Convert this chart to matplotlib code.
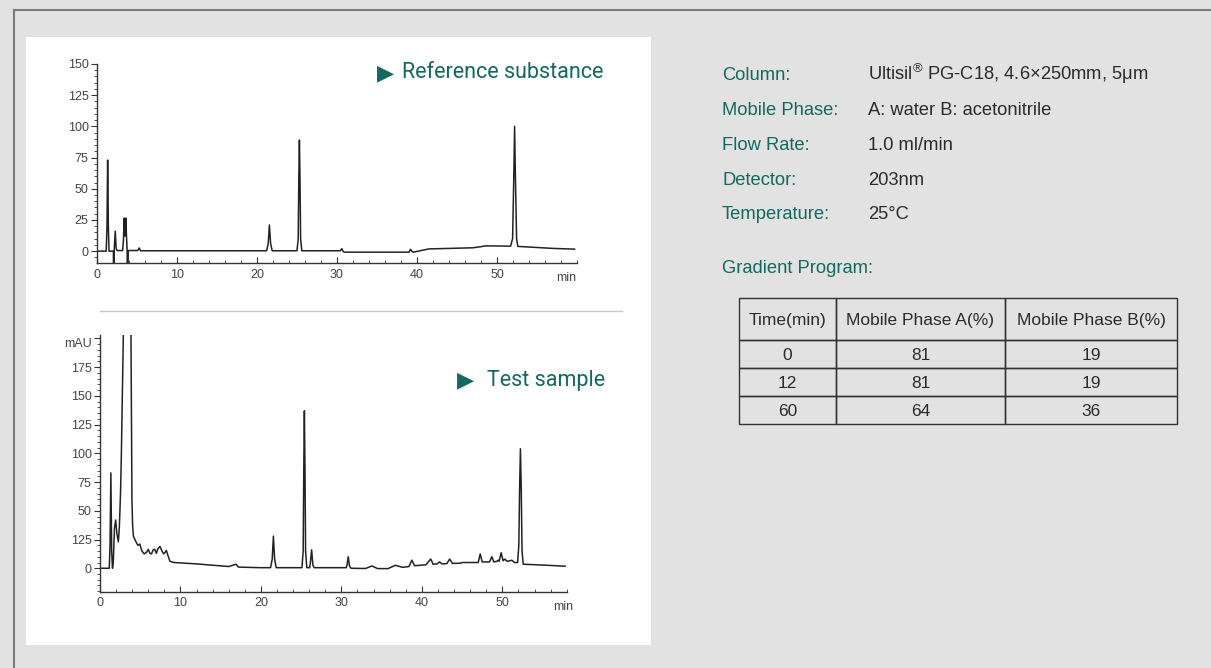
import matplotlib
matplotlib.use("Agg")
import matplotlib.pyplot as plt
from matplotlib.patches import Rectangle
from matplotlib.lines import Line2D
from matplotlib.ticker import MultipleLocator

# ---------------- data ----------------
ref_time = [0, 1.15, 1.25, 1.33, 1.42, 1.5, 2.05, 2.08, 2.13, 2.16, 2.28, 2.4, 2.5,
            3.2, 3.3, 3.4, 3.5, 3.6, 3.7, 3.77, 3.8, 3.86, 3.9, 5.1, 5.27, 5.45,
            21.2, 21.4, 21.55, 21.7, 21.9, 25.0, 25.15, 25.23, 25.3, 25.37, 25.45, 25.6,
            30.4, 30.6, 30.8, 31.0, 39.0, 39.2, 39.4, 39.6, 40.5, 41.5, 44.0, 47.0,
            48.0, 48.5, 49.0, 51.7, 51.95, 52.1, 52.2, 52.3, 52.45, 52.6, 54.0, 57.0, 59.7]
ref_signal = [0, 0, 20, 73, 20, 0, 0, -40, -40, 2, 16, 2, 0.5,
              0.5, 8, 26.5, 12, 26.5, 10, 0, -40, -40, 0.5, 0.5, 2.5, 0.3,
              0.3, 6, 21, 6, 0.3, 0.3, 10, 60, 89, 60, 10, 0.3,
              0.3, 2, -0.5, -0.8, -0.8, 1.5, -0.5, -0.8, 0.5, 1.8, 2.2, 2.7,
              3.6, 4.2, 4.2, 4.0, 10, 60, 100, 60, 10, 3.8, 3.3, 2.2, 1.6]

test_time = [0, 1.15, 1.25, 1.35, 1.45, 1.55, 1.65, 1.8, 1.95, 2.1, 2.28, 2.4, 2.55,
             2.65, 2.8, 2.9, 3.0, 3.35, 3.75, 3.85, 3.92, 3.97, 4.05, 4.15, 4.4,
             4.7, 4.95, 5.2, 5.5, 5.8, 6.0, 6.2, 6.4, 6.6, 6.8, 7.0, 7.2, 7.45,
             7.7, 7.9, 8.1, 8.25, 8.4, 8.7, 9.2, 12.0, 16.0, 16.9, 17.2, 20.0,
             21.2, 21.4, 21.55, 21.7, 21.9, 25.1, 25.25, 25.33, 25.4, 25.47, 25.55, 25.7,
             26.05, 26.15, 26.3, 26.45, 26.6, 30.6, 30.7, 30.85, 31.0, 31.2, 33.0,
             33.8, 34.5, 35.8, 36.7, 37.6, 38.4, 38.75, 39.1, 40.5, 41.1, 41.4, 41.9,
             42.2, 42.5, 43.1, 43.45, 43.8, 44.8, 45.0, 47.0, 47.25, 47.5, 48.4, 48.7,
             48.95, 49.3, 49.5, 49.6, 49.85, 50.1, 50.3, 50.6, 51.2, 51.5, 51.9, 52.05,
             52.15, 52.25, 52.35, 52.45, 52.6, 55.0, 57.8]
test_signal = [0, 0, 20, 83, 15, 0, 5, 35, 42, 30, 23, 35, 65,
               97, 160, 203, 250, 400, 260, 203, 120, 60, 38, 28, 24,
               20, 21, 15, 12.5, 14, 16.5, 13, 12.5, 16, 16.5, 13, 17, 19,
               15, 12.5, 14, 15.5, 12, 6, 5, 3.8, 1.5, 3.5, 1, 0.5,
               0.5, 8, 28, 8, 0.5, 0.5, 15, 90, 137, 90, 15, 0.5,
               0.5, 5, 16, 3, 0.5, 0.5, 3, 10, 2, 0, -0.2,
               2, -0.3, -0.3, 2.6, 0.8, 1.5, 7, 2.2, 3, 8, 3.5, 3.8,
               5.5, 3.8, 4, 8, 4.2, 4.4, 5, 5, 12.5, 5.5, 5.5, 10,
               5.5, 6, 7, 6, 13.5, 6.5, 8, 6, 7, 5, 5, 20,
               70, 104, 70, 15, 3.5, 2.8, 1.8]

ref_yticks = [0, 25, 50, 75, 100, 125, 150]
ref_xticks = [0, 10, 20, 30, 40, 50]
test_yticks = [0, 25, 50, 75, 100, 125, 150, 175, 200]
test_yticklabels = ["0", "125", "50", "75", "100", "125", "150", "175", "mAU"]
test_xticks = [0, 10, 20, 30, 40, 50]

cond_labels = ["Column:", "Mobile Phase:", "Flow Rate:", "Detector:", "Temperature:"]
cond_values = [r"Ultisil$^{®}$ PG-C18, 4.6×250mm, 5μm", "A: water B: acetonitrile",
               "1.0 ml/min", "203nm", "25°C"]

table_header = ["Time(min)", "Mobile Phase A(%)", "Mobile Phase B(%)"]
grad_time = ["0", "12", "60"]
grad_a = ["81", "81", "64"]
grad_b = ["19", "19", "36"]

# ---------------- styling ----------------
W, H = 1211, 668
TEAL = "#13695f"
DARK = "#2b2b2b"
TICK_C = "#333333"
plt.rcParams["font.family"] = ["Liberation Sans", "DejaVu Sans"]
plt.rcParams["mathtext.fontset"] = "custom"
plt.rcParams["mathtext.rm"] = "Liberation Sans"
plt.rcParams["mathtext.it"] = "Liberation Sans"
plt.rcParams["mathtext.bf"] = "Liberation Sans"

fig = plt.figure(figsize=(W / 100, H / 100), dpi=100)
fig.patch.set_facecolor("#e2e2e2")


def fx(px):
    return px / W


def fy(py):
    return 1 - py / H


# outer border lines and white panel
fig.add_artist(Line2D([fx(14), 1], [fy(10), fy(10)], color="#7a7a7a", lw=1.5))
fig.add_artist(Line2D([fx(14), fx(14)], [fy(10), 0], color="#7a7a7a", lw=1.5))
fig.add_artist(Rectangle((fx(26), fy(645)), fx(651) - fx(26), fy(37) - fy(645),
                         facecolor="white", edgecolor="none", zorder=0))
# separator between the two chromatograms
fig.add_artist(Line2D([fx(100), fx(622)], [fy(311), fy(311)], color="#c8c8c8", lw=1))


def style_axes(ax):
    ax.set_facecolor("none")
    for s in ("top", "right"):
        ax.spines[s].set_visible(False)
    for s in ("left", "bottom"):
        ax.spines[s].set_color(TICK_C)
        ax.spines[s].set_linewidth(1.0)
    ax.tick_params(axis="x", which="both", direction="in", colors=TICK_C,
                   labelcolor="#444444", labelsize=9, pad=4)
    ax.tick_params(axis="x", which="major", length=4)
    ax.tick_params(axis="x", which="minor", length=2.5)
    ax.tick_params(axis="y", which="both", direction="out", colors=TICK_C,
                   labelcolor="#444444", labelsize=9, pad=2)
    ax.tick_params(axis="y", which="major", length=4)
    ax.tick_params(axis="y", which="minor", length=2.5)
    ax.yaxis.set_minor_locator(MultipleLocator(5))
    ax.xaxis.set_minor_locator(MultipleLocator(2))


# ---- top chromatogram ----
ax1 = fig.add_axes([fx(97), fy(263), fx(577) - fx(97), fy(64) - fy(263)])
style_axes(ax1)
ax1.plot(ref_time, ref_signal, color="#222222", lw=1.1)
ax1.set_xlim(0, 60)
ax1.set_ylim(-9.5, 150)
ax1.set_yticks(ref_yticks)
ax1.set_xticks(ref_xticks)
ax1.text(0.978, -0.045, "min", transform=ax1.transAxes, ha="center", va="top",
         fontsize=9, color="#444444")

# ---- bottom chromatogram ----
ax2 = fig.add_axes([fx(100), fy(591.7), fx(566.7) - fx(100), fy(335) - fy(591.7)])
style_axes(ax2)
ax2.plot(test_time, test_signal, color="#222222", lw=1.1)
ax2.set_xlim(0, 58)
ax2.set_ylim(-20.4, 203)
ax2.set_yticks(test_yticks)
ax2.set_yticklabels(test_yticklabels)
ax2.get_yticklabels()[-1].set_va("top")
ax2.set_xticks(test_xticks)
ax2.text(0.992, -0.035, "min", transform=ax2.transAxes, ha="center", va="top",
         fontsize=9, color="#444444")

# chart titles
fig.text(fx(377), fy(73.5), "▶", fontsize=16, color=TEAL, family="DejaVu Sans",
         ha="left", va="center")
fig.text(fx(402), fy(73), "Reference substance", fontsize=15.5, color=TEAL,
         family="Roboto", ha="left", va="center")
fig.text(fx(457), fy(380.5), "▶", fontsize=16, color=TEAL, family="DejaVu Sans",
         ha="left", va="center")
fig.text(fx(487), fy(380), "Test sample", fontsize=15.5, color=TEAL,
         family="Roboto", ha="left", va="center")

# conditions
row_base = [80, 115, 150, 185, 219]
for lab, val, yy in zip(cond_labels, cond_values, row_base):
    fig.text(fx(722), fy(yy), lab, fontsize=13.2, color=TEAL, ha="left", va="baseline")
    fig.text(fx(868), fy(yy), val, fontsize=13.2, color=DARK, ha="left", va="baseline")
fig.text(fx(722), fy(273), "Gradient Program:", fontsize=13.2, color=TEAL,
         ha="left", va="baseline")

# gradient table
axt = fig.add_axes([fx(739), fy(424), fx(1177) - fx(739), fy(298) - fy(424)])
axt.axis("off")
cells = [[t, a, b] for t, a, b in zip(grad_time, grad_a, grad_b)]
col_w = [97, 169, 172]
tot = sum(col_w)
tbl = axt.table(cellText=cells, colLabels=table_header,
                colWidths=[c / tot for c in col_w], cellLoc="center",
                bbox=[0, 0, 1, 1])
tbl.auto_set_font_size(False)
for (r, c), cell in tbl.get_celld().items():
    cell.set_edgecolor("#333333")
    cell.set_linewidth(1.0)
    cell.set_facecolor("none")
    cell.get_text().set_fontsize(12.5)
    cell.get_text().set_color(DARK)
    cell.get_text().set_va("center_baseline")
    cell.set_height(42 if r == 0 else 28)

fig.savefig("out.png", dpi=100, facecolor=fig.get_facecolor())
